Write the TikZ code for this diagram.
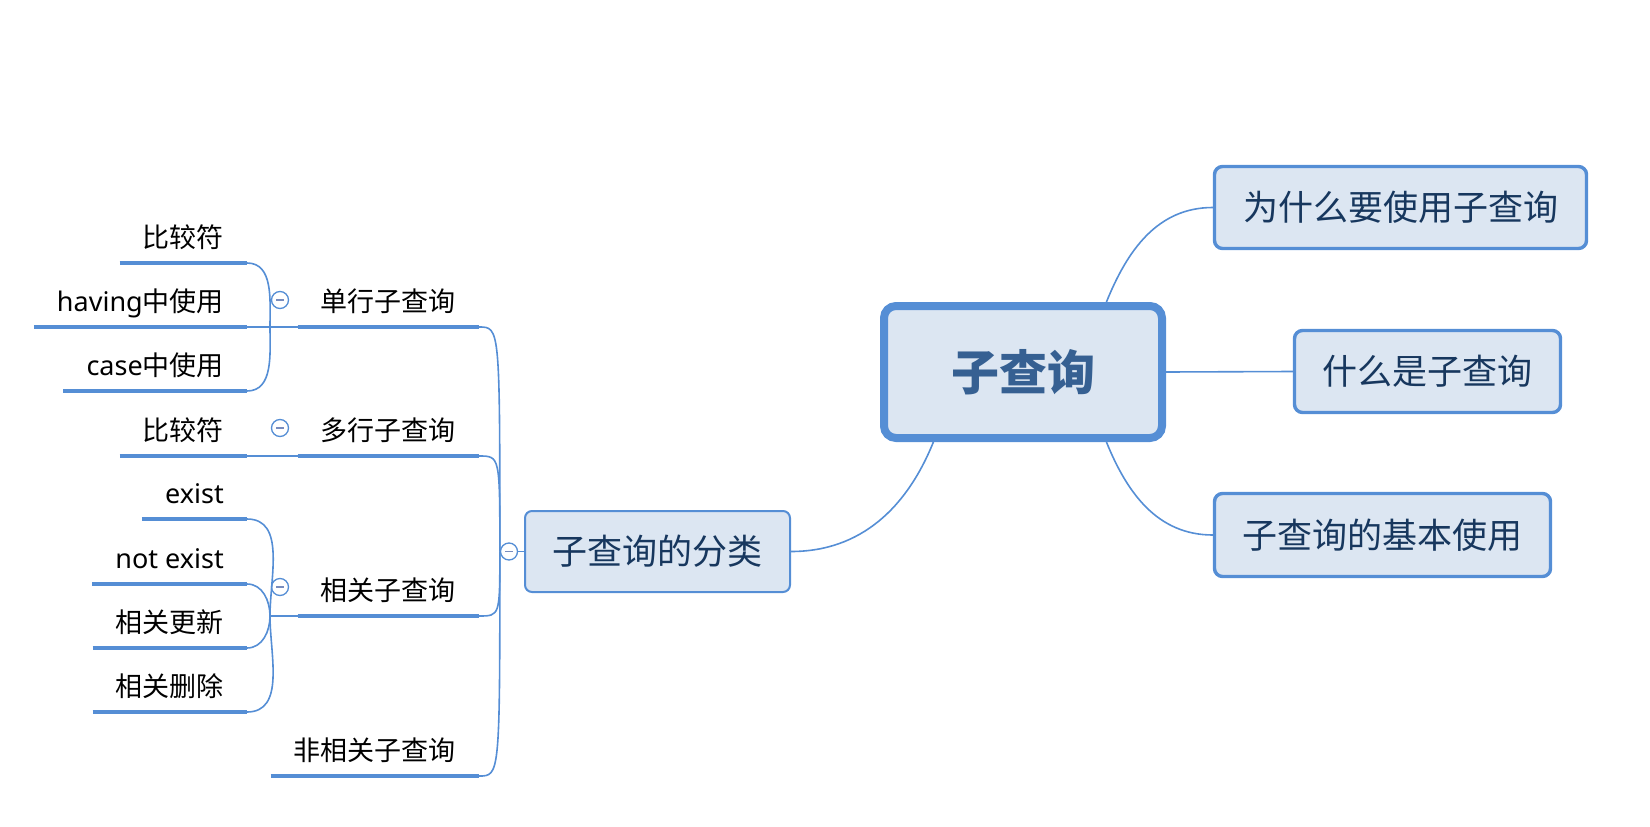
\documentclass[tikz,border=0pt]{standalone}
\usepackage{fontspec}
\setmainfont{Noto Sans CJK SC}
\newfontfamily\lat{Noto Sans}
\definecolor{xblue}{RGB}{85,142,213}
\definecolor{xfill}{RGB}{220,230,242}
\definecolor{xnavy}{RGB}{23,55,94}
\definecolor{xcent}{RGB}{54,96,146}
\definecolor{xminus}{RGB}{120,140,190}
\begin{document}
\begin{tikzpicture}[x=1bp,y=1bp,
  conn/.style={draw=xblue, line width=1.6bp},
  uline/.style={draw=xblue, line width=4.5bp},
  topic/.style={draw=xblue, fill=xfill, line width=3.4bp, rounded corners=8bp, text=xnavy,
    font=\fontsize{35bp}{40bp}\selectfont, minimum height=82bp, inner sep=0pt},
  centraltopic/.style={draw=xblue, fill=xfill, line width=8bp, rounded corners=12bp, text=xcent,
    font=\fontsize{48bp}{56bp}\selectfont\bfseries, minimum width=278bp, minimum height=132bp},
  leaf/.style={anchor=south east, inner xsep=23bp, inner ysep=0pt, text height=22bp, text depth=15bp,
    font=\fontsize{27bp}{32bp}\selectfont},
  fold/.style={circle, draw=xblue, line width=1.3bp, fill=white, minimum size=17bp, inner sep=0pt,
    path picture={\draw[xminus, line width=1.5bp] ([xshift=-4bp]path picture bounding box.center) -- ([xshift=4bp]path picture bounding box.center);}},
]
\useasboundingbox (0,0) rectangle (1650,-826);

% central and main topics
\node[centraltopic] (c) at (1023,-372) {子查询};
\node[topic, minimum width=372bp] (b1) at (1400.5,-207.5) {为什么要使用子查询};
\node[topic, minimum width=266bp] (b2) at (1427.5,-371.5) {什么是子查询};
\node[topic, minimum width=336bp, minimum height=83bp] (b3) at (1382.5,-535) {子查询的基本使用};
\node[topic, minimum width=265bp, minimum height=81bp, line width=2bp, rounded corners=7bp] (b4) at (657.5,-551.5) {子查询的分类};

% children of 分类
\node[leaf] (c1) at (479,-327) {单行子查询};
\node[leaf] (c2) at (479,-456) {多行子查询};
\node[leaf] (c3) at (479,-616) {相关子查询};
\node[leaf] (c4) at (479,-776) {非相关子查询};

% grandchildren
\node[leaf] (g1) at (247,-263) {比较符};
\node[leaf] (g2) at (247,-327) {{\lat having}中使用};
\node[leaf] (g3) at (247,-391) {{\lat case}中使用};
\node[leaf] (g4) at (247,-456) {比较符};
\node[leaf] (g5) at (247,-519) {{\lat exist}};
\node[leaf] (g6) at (247,-584) {{\lat not exist}};
\node[leaf] (g7) at (247,-648) {相关更新};
\node[leaf] (g8) at (247,-712) {相关删除};

\foreach \n in {c1,c2,c3,c4,g1,g2,g3,g4,g5,g6,g7,g8}
  \draw[uline] (\n.south west) -- (\n.south east);

% fold markers
\node[fold] (k0) at (509,-551.5) {};
\node[fold] (k1) at (280,-300) {};
\node[fold] (k2) at (280,-428) {};
\node[fold] (k3) at (280,-587) {};

\coordinate (j1) at (270,-327);
\coordinate (j3) at (270,-616);

% connectors from central topic
\draw[conn] (c.40.5) to[out=68,in=180] (b1.west);
\draw[conn] (c.east) -- (b2.west);
\draw[conn] (c.-40.5) to[out=-68,in=180] (b3.west);
\draw[conn] (c.218) to[out=-112,in=0] (b4.east);

% 分类 to its children
\draw[conn] (k0.east) -- (b4.west);
\foreach \n in {c1,c2,c3,c4}
  \draw[conn] (k0.west) .. controls (k0.west |- \n.south east) .. (\n.south east);

% 单行子查询
\draw[conn] (j1) -- (c1.south west);
\draw[conn] (j1) to[out=90,in=0] (g1.south east);
\draw[conn] (j1) -- (g2.south east);
\draw[conn] (j1) to[out=-90,in=0] (g3.south east);

% 多行子查询
\draw[conn] (g4.south east) -- (c2.south west);

% 相关子查询
\draw[conn] (j3) -- (c3.south west);
\draw[conn] (j3) to[out=90,in=0] (g5.south east);
\draw[conn] (j3) to[out=90,in=0] (g6.south east);
\draw[conn] (j3) to[out=-90,in=0] (g7.south east);
\draw[conn] (j3) to[out=-90,in=0] (g8.south east);
\end{tikzpicture}
\end{document}
